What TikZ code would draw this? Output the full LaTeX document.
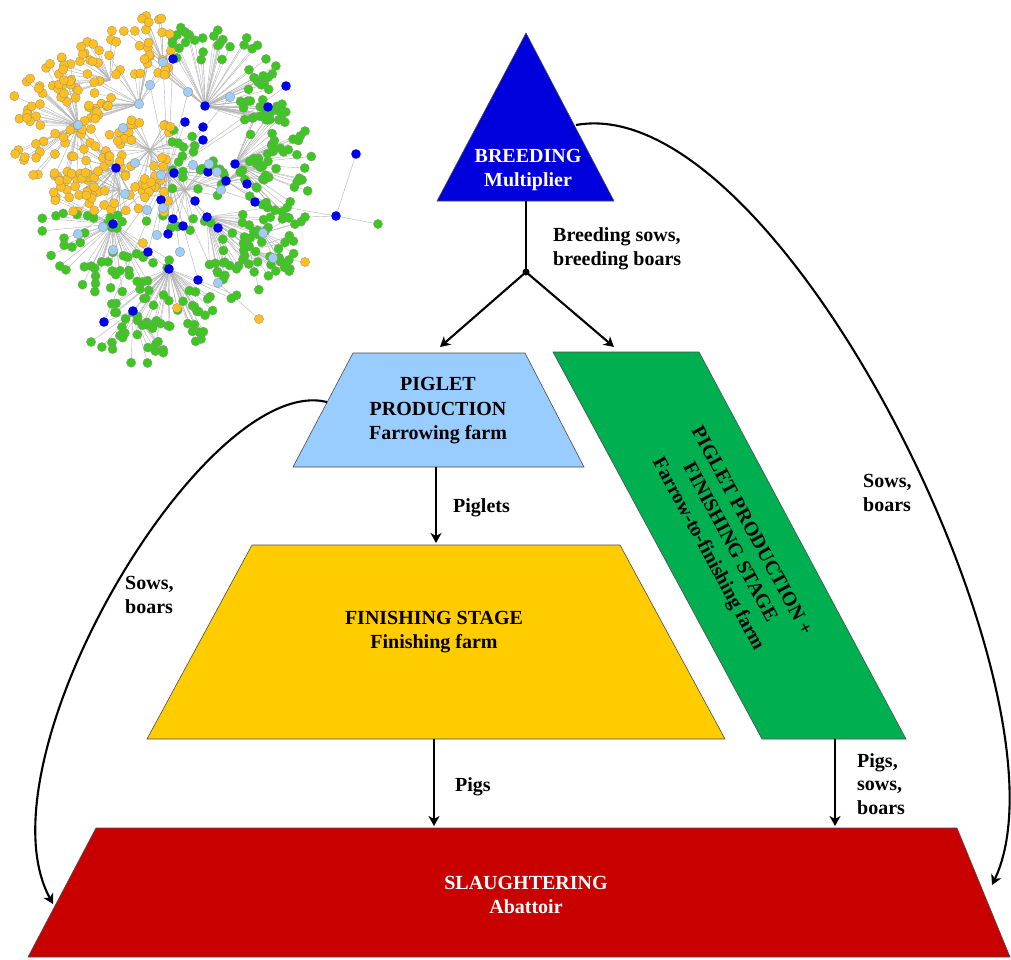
\documentclass[tikz,border=0pt]{standalone}
\usepackage{fontspec}
\setmainfont{Liberation Serif}
\usetikzlibrary{arrows.meta}

\definecolor{breedblue}{RGB}{0,0,220}
\definecolor{pigletblue}{RGB}{153,204,255}
\definecolor{finishyellow}{RGB}{255,204,0}
\definecolor{farrowgreen}{RGB}{0,176,80}
\definecolor{abattoirred}{RGB}{200,0,0}
\definecolor{netgreen}{RGB}{60,200,30}
\definecolor{netyellow}{RGB}{255,192,30}
\definecolor{netblue}{RGB}{0,0,235}
\definecolor{netlight}{RGB}{160,205,245}

\def\hublist{78/125/48/70/90/290,116/168/38/62/120/300,139/104/30/58/50/200,
  163/62/18/50/40/150,110/80/24/55/60/200,205/106/60/82/-20/150,
  235/164/40/78/-50/70,113/224/44/72/150/330,169/269/46/78/200/340,
  133/311/18/55/210/330,207/217/36/68/-90/10,150/150/40/45/0/360,
  185/190/34/42/0/360,226/181/16/50/-40/40,263/233/8/40/-60/30,
  120/190/22/40/90/270,250/250/14/45/-100/20}

\begin{document}
\begin{tikzpicture}[x=1pt,y=1pt,
        stage/.style={draw=black!70,line width=0.6pt},
        flow/.style={line width=2.1pt,-{Stealth[length=10pt,width=11pt,inset=3pt]}},
        title/.style={font=\fontsize{20}{24.5}\selectfont\bfseries,align=center,inner sep=0pt},
        lbl/.style={font=\fontsize{20}{23.5}\selectfont\bfseries,align=left,inner sep=0pt,anchor=west},
        netedge/.style={gray!60,line width=0.4pt},
        netdot/.style={draw=black!45,line width=0.3pt}
      ]
      \fill[white] (0,0) rectangle (1011,-959);
      \useasboundingbox (0,0) rectangle (1011,-959);

      % Contact network (top left)
      \pgfmathsetseed{42}
      \foreach \hx/\hy/\n/\r/\a/\b in \hublist{
        \foreach \k in {1,...,\n}{
          \pgfmathsetmacro\ang{\a+(\b-\a)*rnd}
          \pgfmathsetmacro\rad{\r*(0.25+0.75*sqrt(rnd))}
          \draw[netedge] (\hx,-\hy) -- ++(\ang:\rad);
        }
      }
      \foreach \x/\y in {173/59,286/86,268/107,185/122,203/127,203/140,174/173,
          208/172,247/184,255/202,161/200,195/201,173/219,183/226,218/228,
          168/234,148/252,198/280,104/322,163/62,230/97,123/128,135/163,
          161/175,193/165,209/164,217/172,221/190,125/194,147/210,163/208,
          103/227,78/234,113/250,157/235,180/252,218/283,188/92,150/85}{
        \draw[netedge] (\x,-\y) -- (168,-172);
      }
      \foreach \xa/\ya/\xb/\yb in {336/216/356/154,336/216/378/224,336/216/305/217,
          336/216/255/202,273/258/305/262,218/283/259/319,169/269/177/308,
          148/252/143/243,263/233/273/258,104/322/133/311}{
        \draw[netedge] (\xa,-\ya) -- (\xb,-\yb);
      }
      \pgfmathsetseed{42}
      \foreach \hx/\hy/\n/\r/\a/\b in \hublist{
        \foreach \k in {1,...,\n}{
          \pgfmathsetmacro\ang{\a+(\b-\a)*rnd}
          \pgfmathsetmacro\rad{\r*(0.25+0.75*sqrt(rnd))}
          \pgfmathsetmacro\lx{\hx+\rad*cos(\ang)}
          \pgfmathsetmacro\ly{\hy-\rad*sin(\ang)}
          \pgfmathtruncatemacro\isy{and(\lx<172,\ly<212)}
          \ifnum\isy=1 \def\dotc{netyellow}\else\def\dotc{netgreen}\fi
          \filldraw[netdot,fill=\dotc] (\lx,-\ly) circle (4.6);
        }
      }
      \foreach \x/\y in {378/224,305/217}{
        \filldraw[netdot,fill=netgreen] (\x,-\y) circle (4.6);
      }
      \foreach \x/\y in {305/262,259/319,177/308,143/243}{
        \filldraw[netdot,fill=netyellow] (\x,-\y) circle (4.6);
      }
      \foreach \x/\y in {173/59,286/86,268/107,205/106,185/122,203/127,203/140,
          116/168,174/173,208/172,235/164,226/181,247/184,255/202,161/200,
          195/201,356/154,336/216,113/224,173/219,183/226,207/217,218/228,
          168/234,148/252,169/269,198/280,133/311,104/322}{
        \fill[netblue] (\x,-\y) circle (4.8);
      }
      \foreach \x/\y in {163/62,230/97,78/125,139/104,123/128,135/163,161/175,
          193/165,209/164,217/172,221/190,125/194,147/210,163/208,103/227,
          78/234,113/250,157/235,180/252,263/233,273/258,218/283,188/92,150/85}{
        \filldraw[netdot,fill=netlight] (\x,-\y) circle (4.8);
      }

      % Stages
      \filldraw[stage,fill=breedblue] (526,-33) -- (614,-201) -- (437,-201) -- cycle;
      \node[title,text=white] (breed) at (528,-170) {BREEDING\\Multiplier};

      \filldraw[stage,fill=pigletblue] (353,-353) -- (525,-353) -- (584,-467) -- (293,-467) -- cycle;
      \node[title] (piglet) at (438,-411) {PIGLET\\PRODUCTION\\Farrowing farm};

      \filldraw[stage,fill=finishyellow] (252,-545) -- (620,-545) -- (725,-739) -- (147,-739) -- cycle;
      \node[title] (finish) at (434,-632) {FINISHING STAGE\\Finishing farm};

      \filldraw[stage,fill=farrowgreen] (553,-352) -- (699,-352) -- (906,-739) -- (762,-739) -- cycle;
      \node[title,rotate=-61.6] (farrow) at (729,-543)
        {PIGLET PRODUCTION +\\FINISHING STAGE\\Farrow-to-finishing farm};

      \filldraw[stage,fill=abattoirred] (96,-828) -- (957,-828) -- (1010,-957) -- (28,-957) -- cycle;
      \node[title,text=white] (slaughter) at (526,-895) {SLAUGHTERING\\Abattoir};

      % Flows
      \coordinate (breedbase) at (526,-201);
      \node[circle,fill,inner sep=0pt,minimum size=7pt] (split) at (526,-272) {};
      \coordinate (pigletin) at (440,-347);
      \coordinate (farrowin) at (614,-347);
      \draw[line width=2.1pt] (breedbase) -- (split.center);
      \draw[flow] (split.center) -- (pigletin);
      \draw[flow] (split.center) -- (farrowin);
      \node[lbl] (lblbreed) at (553,-249) {Breeding sows,\\breeding boars};

      \coordinate (pigletout) at (436,-467);
      \coordinate (finishin) at (436,-543);
      \draw[flow] (pigletout) -- (finishin);
      \node[lbl] (lblpiglets) at (453,-508) {Piglets};

      \coordinate (finishout) at (434,-739);
      \coordinate (slaughterin) at (434,-826);
      \draw[flow] (finishout) -- (slaughterin);
      \node[lbl] (lblpigs) at (455,-787) {Pigs};

      \coordinate (farrowout) at (835,-739);
      \coordinate (slaughterin2) at (835,-826);
      \draw[flow] (farrowout) -- (slaughterin2);
      \node[lbl] (lblmixed) at (857,-784) {Pigs,\\sows,\\boars};

      \coordinate (pigletside) at (327,-402);
      \coordinate (slaughterleft) at (53,-904);
      \draw[flow] (pigletside) .. controls (205,-372) and (-25,-760) .. (slaughterleft);
      \node[lbl] (lblleft) at (125,-595) {Sows,\\boars};

      \coordinate (breedside) at (576,-125);
      \coordinate (slaughterright) at (992,-885);
      \draw[flow] (breedside) .. controls (780,-88) and (1080,-700) .. (slaughterright);
      \node[lbl] (lblright) at (863,-493) {Sows,\\boars};
    \end{tikzpicture}
\end{document}
